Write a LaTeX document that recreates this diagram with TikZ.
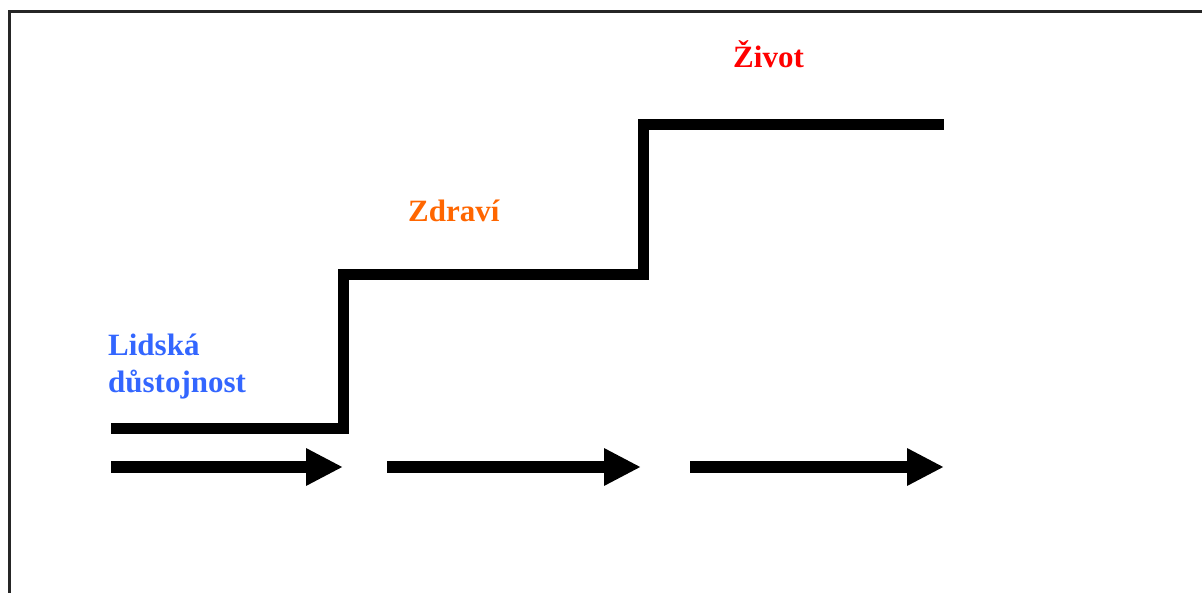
\documentclass[tikz,border=0pt]{standalone}
\usepackage{fontspec}
\setmainfont{Liberation Serif}
\usetikzlibrary{arrows.meta}
\definecolor{lblblue}{RGB}{51,102,255}
\definecolor{lblorange}{RGB}{255,102,0}
\definecolor{lblred}{RGB}{255,0,0}
\begin{document}
\begin{tikzpicture}[x=1pt,y=-1pt,
  lbl/.style={inner sep=0pt, anchor=base west, font=\fontsize{31}{37}\selectfont\bfseries},
  stair/.style={line width=11pt, line join=miter},
  fwd/.style={line width=12pt, -{Triangle[length=37pt,width=35pt]}}]
\useasboundingbox (0,0) rectangle (1202,593);
\draw[line width=2.2pt, black!85] (9.5,600) -- (9.5,11.5) -- (1210,11.5);
% staircase
\coordinate (s0) at (111,428);
\coordinate (s1) at (343,428);
\coordinate (s2) at (343,275);
\coordinate (s3) at (643,275);
\coordinate (s4) at (643,125);
\coordinate (s5) at (944,125);
\draw[stair] (s0) -- (s1) -- (s2) -- (s3) -- (s4) -- (s5);
% arrows
\coordinate (a1s) at (111,467); \coordinate (a1e) at (343,467);
\coordinate (a2s) at (387,467); \coordinate (a2e) at (641,467);
\coordinate (a3s) at (690,467); \coordinate (a3e) at (944,467);
\draw[fwd] (a1s) -- (a1e);
\draw[fwd] (a2s) -- (a2e);
\draw[fwd] (a3s) -- (a3e);
% labels
\node[lbl, text=lblblue] (l1) at (108,356) {Lidská};
\node[lbl, text=lblblue] (l2) at (108,392) {důstojnost};
\node[lbl, text=lblorange] (l3) at (408,222) {Zdraví};
\node[lbl, text=lblred] (l4) at (733,68) {Život};
\end{tikzpicture}
\end{document}
